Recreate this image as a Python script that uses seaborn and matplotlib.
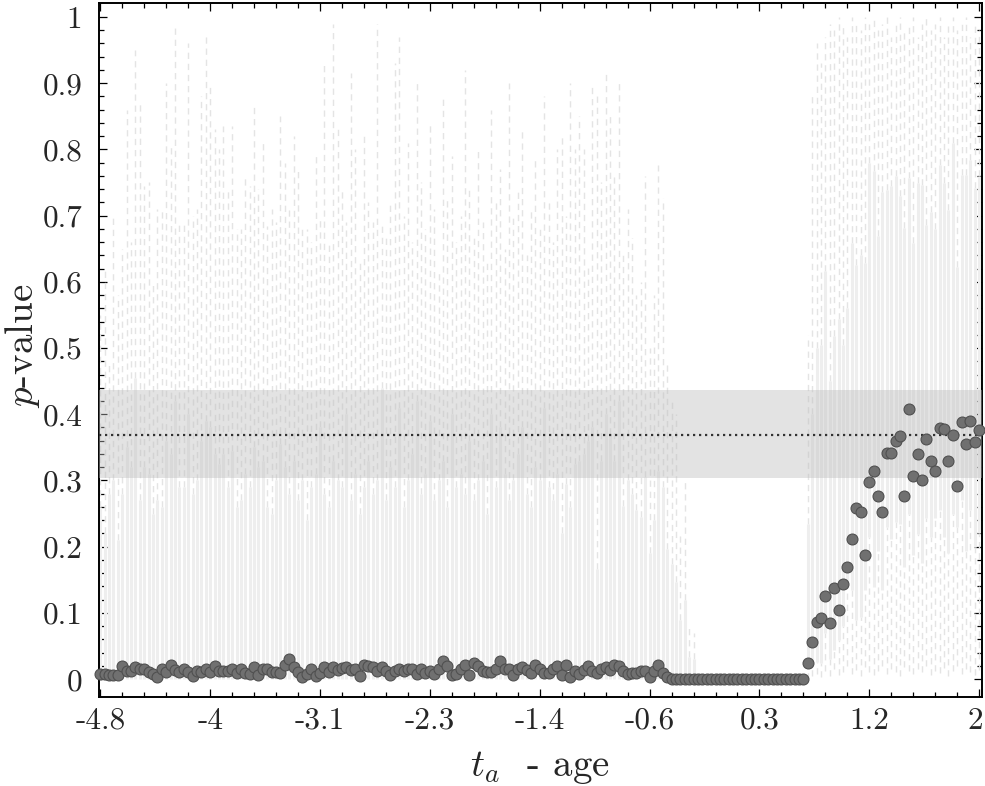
import numpy as np
import matplotlib
matplotlib.use("Agg")
import matplotlib.pyplot as plt
from matplotlib.transforms import ScaledTranslation
import seaborn as sns

# ---------------- data ----------------
t_first, t_last, n_points = -4.8, 2.0, 201

# median p-value per age offset (dots)
p_left_a = [0.0075, 0.0075, 0.0055, 0.006, 0.006,
            0.020, 0.012, 0.012, 0.0186, 0.015,
            0.016, 0.010, 0.0075, 0.0035, 0.0146,
            0.010, 0.022, 0.0136, 0.0115, 0.016,
            0.0105, 0.0045, 0.012, 0.010, 0.015,
            0.010, 0.0196, 0.012, 0.012, 0.012,
            0.0146, 0.0085, 0.015, 0.0095, 0.0075,
            0.0186, 0.006, 0.016, 0.0156, 0.0105,
            0.010, 0.0095, 0.021, 0.0306, 0.0176,
            0.010, 0.003, 0.0075, 0.015, 0.0045,
            0.0085, 0.0186, 0.010, 0.0186, 0.0136,
            0.0166, 0.0186, 0.0136, 0.0146, 0.0045,
            0.0206, 0.020, 0.0186, 0.0125, 0.0186,
            0.012]
p_left_b = [0.006, 0.0125, 0.016, 0.012, 0.0146,
            0.016, 0.0075, 0.015, 0.0095, 0.0125,
            0.0075, 0.015, 0.027, 0.0196, 0.0055,
            0.0075, 0.015, 0.022, 0.006, 0.0246,
            0.0196, 0.012, 0.011, 0.011, 0.016,
            0.0276, 0.015, 0.015, 0.0055, 0.015,
            0.0176, 0.0136, 0.0095, 0.0206, 0.0146,
            0.0095, 0.0095, 0.016, 0.020, 0.0055,
            0.0206, 0.0025, 0.0125, 0.0075, 0.0136,
            0.0196, 0.012, 0.0085, 0.015, 0.0186,
            0.0136, 0.0206, 0.0196, 0.012, 0.0075,
            0.0095, 0.0095, 0.0125, 0.012, 0.0025,
            0.0125, 0.0206, 0.0095, 0.0025]
p_flat = [0.0] * 31
p_right = [0.024, 0.056, 0.087, 0.092, 0.125, 0.084, 0.137, 0.104, 0.144, 0.170,
           0.212, 0.259, 0.253, 0.188, 0.297, 0.314, 0.276, 0.252, 0.342, 0.342,
           0.359, 0.367, 0.276, 0.408, 0.307, 0.340, 0.301, 0.363, 0.330, 0.315,
           0.379, 0.378, 0.330, 0.369, 0.292, 0.389, 0.355, 0.390, 0.358, 0.376]

# upper quartile (top of the solid box)
q3_left = [0.26, 0.22, 0.28, 0.30, 0.21, 0.28, 0.35, 0.32, 0.455, 0.27,
           0.32, 0.31, 0.25, 0.27, 0.26, 0.36, 0.34, 0.42, 0.29, 0.29,
           0.40, 0.28, 0.30, 0.36, 0.39, 0.38, 0.34, 0.325, 0.34, 0.29,
           0.345, 0.26, 0.27, 0.31, 0.29, 0.35, 0.32, 0.33, 0.26, 0.25,
           0.30, 0.355, 0.32, 0.28, 0.33, 0.27, 0.30, 0.24, 0.29, 0.31,
           0.38, 0.28, 0.26, 0.33, 0.30, 0.29, 0.40, 0.27, 0.31, 0.25,
           0.29, 0.33, 0.28, 0.30, 0.44, 0.27, 0.32, 0.29, 0.41, 0.26,
           0.30, 0.34, 0.42, 0.28, 0.31, 0.39, 0.27, 0.30, 0.33, 0.26,
           0.40, 0.29, 0.31, 0.28, 0.36, 0.27, 0.30, 0.33, 0.25, 0.40,
           0.29, 0.38, 0.31, 0.27, 0.30, 0.34, 0.38, 0.28, 0.26, 0.32,
           0.30, 0.41, 0.29, 0.27, 0.31, 0.22, 0.295, 0.26, 0.325, 0.33,
           0.34, 0.36, 0.38, 0.167, 0.33, 0.40, 0.37, 0.33, 0.42, 0.262,
           0.30, 0.28, 0.255, 0.245, 0.305, 0.19, 0.24, 0.315, 0.29, 0.197]
q3_flat = [0.174, 0.147, 0.089, 0.12, 0.034, 0.03] + [0.0] * 25
q3_right = [0.235, 0.40, 0.50, 0.505, 0.616, 0.45, 0.518, 0.544, 0.505, 0.561,
            0.659, 0.626, 0.641, 0.628, 0.779, 0.767, 0.669, 0.736, 0.739, 0.744,
            0.759, 0.729, 0.681, 0.756, 0.659, 0.749, 0.746, 0.686, 0.706, 0.679,
            0.777, 0.749, 0.709, 0.81, 0.623, 0.762, 0.762, 0.784, 0.741, 0.76]

# lower quartile (bottom of the solid box)
q1_left = [0.0] * 130
q1_flat = [0.0] * 31
q1_right = [0.03, 0.026, 0.026, 0.024, 0.07, 0.031, 0.044, 0.059, 0.08, 0.139,
            0.134, 0.089, 0.094, 0.134, 0.214, 0.139, 0.194, 0.134, 0.229, 0.212,
            0.237, 0.234, 0.169, 0.25, 0.187, 0.219, 0.175, 0.244, 0.214, 0.244,
            0.255, 0.214, 0.19, 0.25, 0.229, 0.27, 0.194, 0.255, 0.199, 0.22]

# whisker ends
wmax_left = [0.55, 0.62, 0.48, 0.70, 0.58, 0.65, 0.86, 0.66, 0.95, 0.87,
             0.745, 0.75, 0.60, 0.71, 0.71, 0.90, 0.81, 0.99, 0.69, 0.69,
             0.96, 0.70, 0.71, 0.88, 0.975, 0.90, 0.83, 0.80, 0.835, 0.74,
             0.835, 0.68, 0.68, 0.76, 0.745, 0.865, 0.74, 0.814, 0.685, 0.71,
             0.69, 0.85, 0.78, 0.71, 0.82, 0.77, 0.68, 0.68, 0.66, 0.79,
             0.70, 0.93, 0.66, 0.99, 0.83, 0.74, 0.69, 0.915, 0.80, 0.63,
             0.82, 0.72, 0.69, 0.99, 0.69, 0.67, 0.72, 0.93, 0.97, 0.70,
             0.81, 0.66, 0.90, 0.75, 0.68, 0.84, 0.71, 0.62, 0.88, 0.73,
             0.79, 0.66, 0.70, 0.92, 0.74, 0.67, 0.80, 0.69, 0.63, 0.86,
             0.72, 0.77, 0.65, 0.90, 0.70, 0.74, 0.83, 0.64, 0.71, 0.79,
             0.68, 0.88, 0.72, 0.66, 0.80, 0.82, 0.70, 0.90, 0.80, 0.85,
             0.80, 0.626, 0.90, 0.88, 0.75, 0.92, 0.85, 0.76, 0.90, 0.646,
             0.71, 0.666, 0.58, 0.60, 0.76, 0.50, 0.58, 0.777, 0.726, 0.48]
wmax_flat = [0.42, 0.40, 0.22, 0.30, 0.079, 0.07] + [0.0] * 25
wmax_right = [0.52, 0.88, 0.96, 0.93, 0.97, 0.99, 0.98, 1.0, 0.99, 0.97,
              1.0, 0.99, 0.98, 1.0, 0.99, 1.0, 0.98, 0.99, 1.0, 0.97,
              0.99, 1.0, 0.98, 0.99, 1.0, 0.97, 0.99, 1.0, 0.98, 0.99,
              1.0, 0.97, 0.99, 1.0, 0.98, 0.99, 1.0, 0.97, 0.99, 0.98]
wmin_left = [0.0] * 130
wmin_flat = [0.0] * 31
wmin_right = [0.0, 0.004, 0.008, 0.003, 0.012, 0.005, 0.015, 0.006, 0.01, 0.02,
              0.008, 0.014, 0.004, 0.018, 0.01, 0.006, 0.012, 0.02, 0.008, 0.015,
              0.01, 0.005, 0.018, 0.012, 0.007, 0.016, 0.01, 0.02, 0.006, 0.013,
              0.009, 0.017, 0.005, 0.012, 0.02, 0.008, 0.015, 0.01, 0.006, 0.014]

band_low, band_high, ref_level = 0.303, 0.437, 0.368

x_tick_labels = ["-4.8", "-4", "-3.1", "-2.3", "-1.4", "-0.6", "0.3", "1.2", "2"]
y_tick_labels = ["0", "0.1", "0.2", "0.3", "0.4", "0.5", "0.6", "0.7", "0.8", "0.9", "1"]

# ---------------- assemble ----------------
t = np.linspace(t_first, t_last, n_points)
p = np.array(p_left_a + p_left_b + p_flat + p_right)
q1 = np.array(q1_left + q1_flat + q1_right)
q3 = np.array(q3_left + q3_flat + q3_right)
wmin = np.array(wmin_left + wmin_flat + wmin_right)
wmax = np.array(wmax_left + wmax_flat + wmax_right)

# ---------------- style ----------------
sns.set_style("ticks")
plt.rcParams["font.family"] = ["cmr10", "DejaVu Serif"]
plt.rcParams["mathtext.fontset"] = "cm"
plt.rcParams["axes.unicode_minus"] = False
plt.rcParams["axes.formatter.use_mathtext"] = True

fig = plt.figure(figsize=(9.85, 7.86), dpi=100)
ax = fig.add_axes([99 / 985, 1 - 697 / 786, (981.5 - 99) / 985, (697 - 3) / 786])

# whiskers (dashed) and boxes (solid)
up = wmax > q3
ax.vlines(t[up], q3[up], wmax[up], colors="#e4e4e4", linewidth=1.0,
          linestyles=(0, (4.5, 3.5)), zorder=1)
lo = q1 > wmin
ax.vlines(t[lo], wmin[lo], q1[lo], colors="#e4e4e4", linewidth=1.0,
          linestyles=(0, (4.5, 3.5)), zorder=1)
bx = q3 > q1
ax.vlines(t[bx], q1[bx], q3[bx], colors="#eeeeee", linewidth=2.2, zorder=2)

# reference band and level
ax.axhspan(band_low, band_high, color="#bdbdbd", alpha=0.42, lw=0, zorder=3)
ax.axhline(ref_level, color="#333333", lw=1.6, ls=(0, (1, 1.7)), zorder=4)

sns.scatterplot(x=t, y=p, s=62, color="#707070", edgecolor="#505050",
                linewidth=0.8, zorder=5, ax=ax, legend=False, clip_on=False)

ax.set_xlim(-4.81, 2.018)
ax.set_ylim(-0.027, 1.021)

ax.set_xticks(np.linspace(t_first, t_last, 9))
ax.set_xticklabels(x_tick_labels)
ax.set_xticks(np.linspace(t_first, t_last, 41), minor=True)
ax.set_yticks(np.linspace(0, 1, 11))
ax.set_yticklabels(y_tick_labels)
ax.set_yticks(np.linspace(0, 1, 51), minor=True)

ax.tick_params(which="both", direction="in", top=True, right=True,
               color="black", width=0.9)
ax.tick_params(which="major", length=6, labelsize=22.5)
ax.tick_params(which="minor", length=3.5)
ax.tick_params(axis="x", which="major", pad=7)
ax.tick_params(axis="y", which="major", pad=12)

last = ax.get_xticklabels()[-1]
last.set_transform(last.get_transform() + ScaledTranslation(-3 / 72, 0, fig.dpi_scale_trans))

for s in ax.spines.values():
    s.set_linewidth(1.4)
    s.set_color("black")

ax.set_xlabel(r"$t_a$  - age", fontsize=28)
ax.set_ylabel(r"$p$-value", fontsize=28)
ax.xaxis.label.set_va("center")
ax.yaxis.label.set_va("center")
ax.xaxis.set_label_coords(0.5, -0.102)
ax.yaxis.set_label_coords(-0.087, 0.506)

fig.savefig("out.png", dpi=100)
